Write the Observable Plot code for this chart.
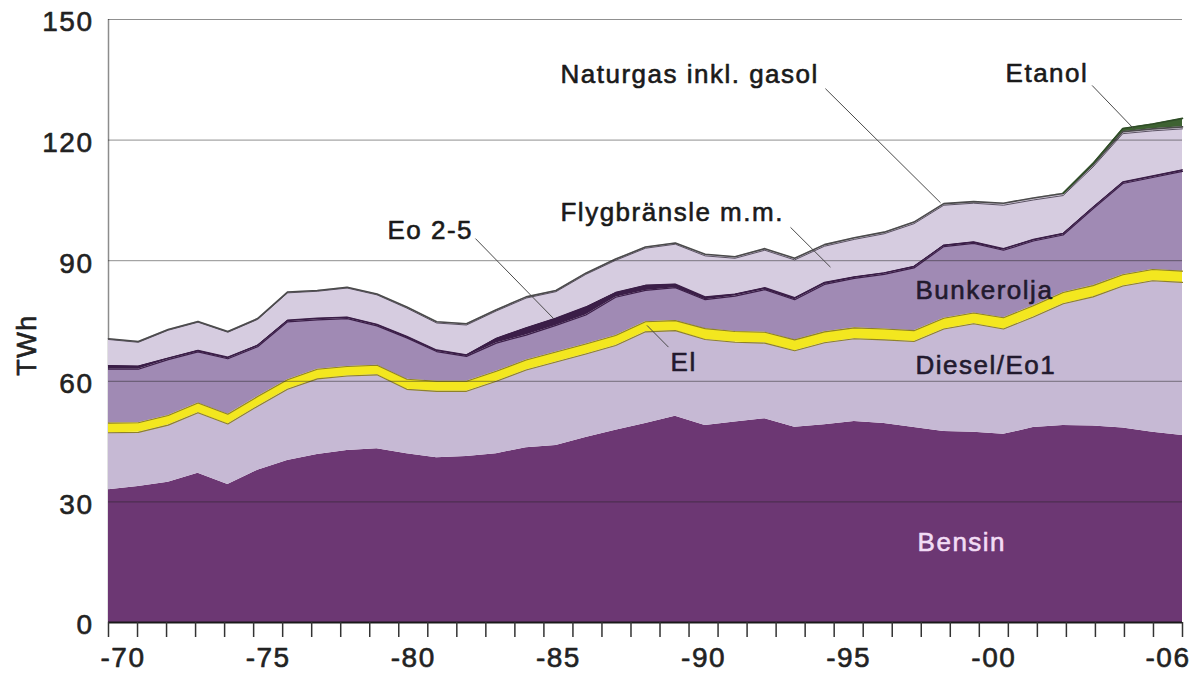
<!DOCTYPE html>
<html>
<head>
<meta charset="utf-8">
<script src="https://cdn.jsdelivr.net/npm/d3@7"></script>
<script src="https://cdn.jsdelivr.net/npm/@observablehq/plot@0.6"></script>
<style>
  html, body { margin: 0; padding: 0; background: #ffffff; }
  #chart svg text { letter-spacing: 1.5px; }
</style>
</head>
<body>
<div id="chart"></div>
<script>
// ---- Data (TWh) ----
const years = [1970,1971,1972,1973,1974,1975,1976,1977,1978,1979,
               1980,1981,1982,1983,1984,1985,1986,1987,1988,1989,
               1990,1991,1992,1993,1994,1995,1996,1997,1998,1999,
               2000,2001,2002,2003,2004,2005,2006];

const bensin   = [33.0,33.8,34.9,37.1,34.3,37.9,40.3,41.8,42.8,43.2,
                  42.0,41.0,41.3,42.0,43.5,44.0,46.0,47.8,49.5,51.3,
                  49.0,49.9,50.7,48.6,49.2,50.0,49.5,48.5,47.5,47.3,
                  46.8,48.5,49.0,48.9,48.4,47.3,46.5];
const diesel   = [14.2,13.5,14.2,15.1,15.1,15.9,17.7,18.8,18.5,18.4,
                  16.0,16.5,16.2,18.0,19.3,20.8,20.8,21.1,22.8,21.3,
                  21.4,19.8,18.8,19.0,20.4,20.6,20.8,21.4,25.5,27.0,
                  26.2,27.5,30.3,32.1,35.3,37.7,38.1];
const el       = [2.4,2.4,2.4,2.4,2.4,2.4,2.4,2.4,2.4,2.4,
                  2.5,2.5,2.5,2.5,2.5,2.5,2.5,2.5,2.5,2.5,
                  2.7,2.7,2.7,2.7,2.7,2.7,2.7,2.7,2.7,2.7,
                  2.8,2.8,2.8,2.8,2.8,2.8,2.8];
const bunker   = [13.4,13.3,13.9,12.7,13.8,12.4,14.4,12.3,11.9,9.8,
                  10.3,7.4,6.2,7.0,6.2,6.6,7.2,9.5,7.8,8.2,
                  7.2,8.8,10.6,10.0,11.8,12.3,13.6,15.6,17.8,17.3,
                  16.8,16.1,14.3,19.1,22.7,22.9,24.8];
const eo25     = [0.9,0.8,0.4,0.4,0.4,0.4,0.4,0.4,0.4,0.4,
                  0.4,0.4,0.4,1.2,1.8,1.8,2.0,1.2,1.3,0.9,
                  0.7,0.5,0.5,0.5,0.5,0.4,0.4,0.4,0.4,0.4,
                  0.4,0.4,0.4,0.4,0.4,0.4,0.4];
const flyg     = [6.5,5.9,6.9,7.0,6.2,6.4,6.8,6.7,7.2,7.3,
                  7.0,6.7,7.4,6.8,7.4,6.6,8.1,8.0,9.2,9.9,
                  10.2,8.9,9.3,9.4,9.0,9.3,9.7,10.6,9.9,9.6,
                  10.8,9.8,9.4,10.0,12.0,11.2,10.2];
const naturgas = [0.2,0.2,0.2,0.2,0.2,0.2,0.2,0.2,0.2,0.2,
                  0.3,0.3,0.3,0.3,0.3,0.3,0.3,0.3,0.3,0.3,
                  0.4,0.4,0.4,0.4,0.4,0.4,0.4,0.4,0.4,0.4,
                  0.5,0.5,0.5,0.5,0.5,0.5,0.5];
const etanol   = [0,0,0,0,0,0,0,0,0,0,
                  0,0,0,0,0,0,0,0,0,0,
                  0,0,0,0,0,0,0,0,0,0,
                  0,0,0.1,0.4,0.8,1.2,2.1];

const seriesNames = ["Bensin","Diesel/Eo1","El","Bunkerolja","Eo 2-5",
                     "Flygbränsle m.m.","Naturgas inkl. gasol","Etanol"];
const seriesValues = [bensin, diesel, el, bunker, eo25, flyg, naturgas, etanol];

const yTicks = [0, 30, 60, 90, 120, 150];
const xLabelYears = [1970, 1975, 1980, 1985, 1990, 1995, 2000, 2006];
const xLabelText  = ["-70","-75","-80","-85","-90","-95","-00","-06"];

// ---- Styles ----
const fills = ["#6c3773","#c6b9d4","#f3e71f","#a08ab4","#3b1e48","#d6cce0","#cfc6d8","#3e6232"];
const edges = [null,"#8f8228","#8f8228","#3b1e48","#3b1e48","#5b5263","#4b4b4b","#2f4d27"];
const edgeW = [0, 1.1, 1.1, 1.2, 1.2, 1, 1.6, 1.6];

// ---- Annotations (data coordinates) ----
const labels = [
  {text: "Naturgas inkl. gasol", x: 1985.15, y: 136.3, fill: "#1a1a1a"},
  {text: "Etanol",               x: 2000.07, y: 136.6, fill: "#1a1a1a"},
  {text: "Flygbränsle m.m.",     x: 1985.15, y: 102.0, fill: "#1a1a1a"},
  {text: "Eo 2-5",               x: 1979.35, y: 97.5,  fill: "#1a1a1a"},
  {text: "Bunkerolja",           x: 1997.05, y: 82.6,  fill: "#221a2e"},
  {text: "El",                   x: 1988.84, y: 64.7,  fill: "#221a2e"},
  {text: "Diesel/Eo1",           x: 1997.05, y: 63.9,  fill: "#221a2e"},
  {text: "Bensin",               x: 1997.12, y: 19.9,  fill: "#f2dcf5"}
];
const leaders = [
  {x1: 1994.03, y1: 132.8, x2: 1997.89, y2: 104.4},
  {x1: 2002.97, y1: 133.6, x2: 2004.37, y2: 122.8},
  {x1: 1992.86, y1: 98.3,  x2: 1994.20, y2: 88.4},
  {x1: 1982.30, y1: 95.5,  x2: 1984.92, y2: 75.6},
  {x1: 1988.05, y1: 73.9,  x2: 1988.77, y2: 68.5}
];

// ---- Build tables ----
const table = years.map((year, i) => {
  const row = {year};
  seriesNames.forEach((s, k) => { row[s] = seriesValues[k][i]; });
  return row;
});
const stacked = d3.stack().keys(seriesNames)(table);

const first = years[0], last = years[years.length - 1];
const span = last - first, nb = years.length;
const tickPos = d3.range(nb + 1).map(k => first + k * span / nb);
const xLabelRows = xLabelYears.map((y, i) => ({
  pos: first + (years.indexOf(y) + 0.5) * span / nb,
  label: xLabelText[i]
}));

const font = "Liberation Sans, Arial, Helvetica, sans-serif";

const marks = [];
marks.push(Plot.ruleX([first], {y1: 0, y2: 150, stroke: "#8c8c8c", strokeWidth: 1.5}));
stacked.forEach((layer, k) => {
  marks.push(Plot.areaY(layer, {
    x: d => d.data.year, y1: d => d[0], y2: d => d[1],
    fill: fills[k], curve: "linear"
  }));
});
stacked.forEach((layer, k) => {
  if (!edges[k]) return;
  const pts = k === 7 ? layer.filter(d => d.data.year >= 2002) : layer;
  marks.push(Plot.lineY(pts, {
    x: d => d.data.year, y: d => d[1],
    stroke: edges[k], strokeWidth: edgeW[k]
  }));
});
marks.push(Plot.ruleY(yTicks.filter(v => v > 0), {stroke: "#222", strokeOpacity: 0.5, strokeWidth: 1}));
marks.push(Plot.ruleY([0], {stroke: "#1a1a1a", strokeWidth: 2}));
marks.push(Plot.axisX({ticks: tickPos, tickSize: 15, tickFormat: () => "", stroke: "#333", strokeWidth: 1.5}));
marks.push(Plot.text(xLabelRows, {
  x: "pos", text: "label", frameAnchor: "bottom", dy: 36,
  fontSize: 28, fontFamily: font, fill: "#222", stroke: "#222", strokeWidth: 0.6,
  lineAnchor: "middle", textAnchor: "middle"
}));
marks.push(Plot.text(yTicks, {
  y: d => d, text: d => String(d), frameAnchor: "left", dx: -15, dy: 3,
  fontSize: 28, fontFamily: font, fill: "#222", stroke: "#222", strokeWidth: 0.6,
  textAnchor: "end", lineAnchor: "middle"
}));
marks.push(Plot.text(["TWh"], {
  frameAnchor: "left", dx: -81, dy: 24, rotate: -90,
  fontSize: 27, fontFamily: font, fill: "#222", stroke: "#222", strokeWidth: 0.6,
  textAnchor: "middle", lineAnchor: "middle"
}));
marks.push(Plot.link(leaders, {
  x1: "x1", y1: "y1", x2: "x2", y2: "y2", stroke: "#4a4a4a", strokeWidth: 1
}));
marks.push(Plot.text(labels, {
  x: "x", y: "y", text: "text", fill: "fill", stroke: "fill", strokeWidth: 0.6,
  fontSize: 26, fontFamily: font, textAnchor: "start", lineAnchor: "middle"
}));

const chart = Plot.plot({
  width: 1192,
  height: 674,
  marginLeft: 108,
  marginRight: 10,
  marginTop: 19,
  marginBottom: 52,
  style: {fontFamily: font, background: "#ffffff"},
  x: {domain: [first, last], axis: null},
  y: {domain: [0, 150], axis: null},
  marks
});
document.getElementById("chart").appendChild(chart);
</script>
</body>
</html>
